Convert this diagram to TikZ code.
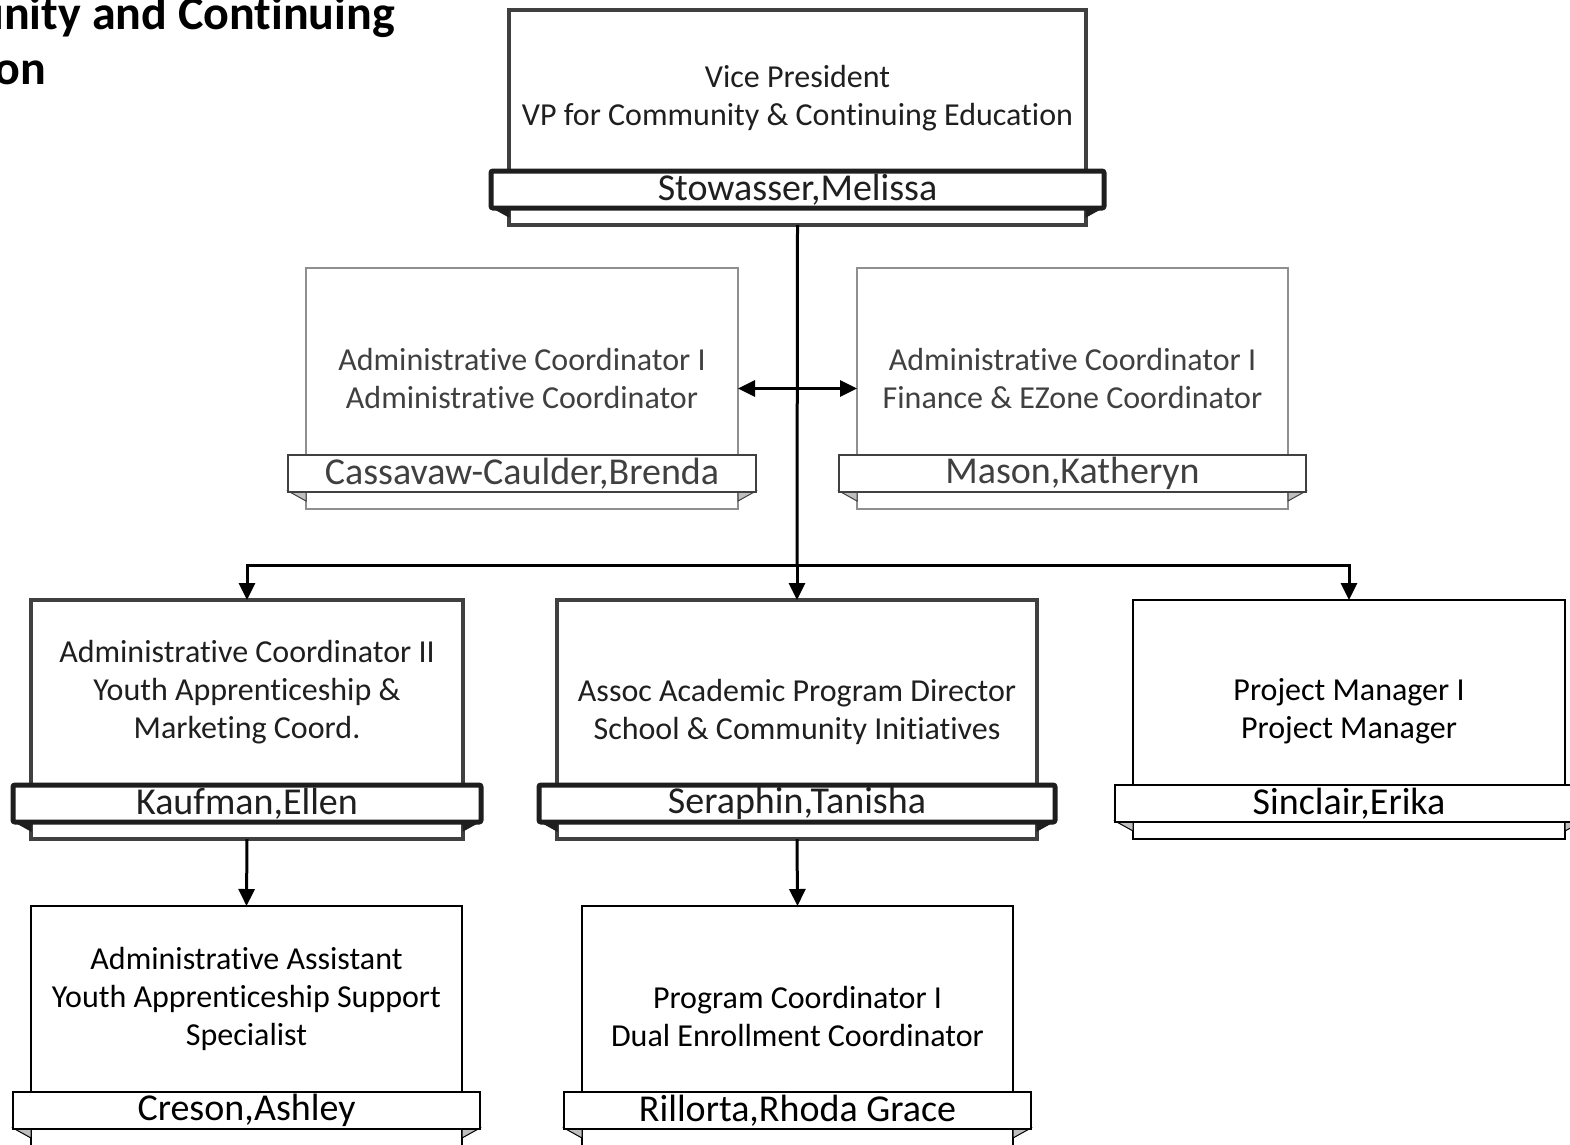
\documentclass[tikz,border=0pt]{standalone}
\usepackage{fontspec}
\setmainfont{Carlito}[Ligatures=NoCommon]
\usetikzlibrary{arrows.meta,calc}
\definecolor{dk}{HTML}{404040}
\definecolor{blk}{HTML}{1E1E1E}
\definecolor{gr}{HTML}{8F8F8F}
\definecolor{foldc}{HTML}{BFBFBF}
\tikzset{
  x=1pt, y=-1pt,
  box/.style={draw, fill=white, rectangle, inner sep=0pt, outer sep=0pt, anchor=north west},
  heavy box/.style={box, draw=dk, line width=4pt},
  grey box/.style={box, draw=gr, line width=2pt},
  thin box/.style={box, draw=black, line width=1.5pt},
  title/.style={align=center, inner sep=0pt, font=\fontsize{32}{38}\selectfont},
  heavy title/.style={title, text=black!88},
  grey title/.style={title, text=dk},
  thin title/.style={title, text=black},
  banner/.style={rectangle, fill=white, inner sep=0pt, outer sep=0pt, minimum height=37pt, anchor=north, font=\fontsize{38}{40}\selectfont},
  heavy banner/.style={banner, draw=blk, line width=5pt, rounded corners=2pt, text=black!88},
  grey banner/.style={banner, draw=dk, line width=1.5pt, text=dk},
  thin banner/.style={banner, draw=black, line width=1.5pt, text=black},
  heavy fold/.style={fill=blk, draw=blk, line width=1pt},
  grey fold/.style={fill=foldc, draw=dk, line width=1pt},
  thin fold/.style={fill=foldc, draw=black, line width=1pt},
  conn/.style={draw=black, line width=3pt},
  arr/.style={conn, -{Triangle[length=17pt,width=16pt]}},
  dblarr/.style={conn, {Triangle[length=17pt,width=16pt]}-{Triangle[length=17pt,width=16pt]}},
  ttl/.style={inner sep=0pt, font=\bfseries\fontsize{48}{55}\selectfont},
}
% #1 id, #2 x1, #3 x2, #4 top, #5 banner top, #6 title y, #7 style, #8 title, #9 name
\newcommand\orgunit[9]{%
  \node[#7 box, minimum width={(#3-#2)*1pt}, minimum height={(#5+54-#4)*1pt}] (#1) at (#2,#4) {};
  \filldraw[#7 fold] (#2-18,#5+36) -- (#2,#5+36) -- (#2,#5+46) -- cycle;
  \filldraw[#7 fold] (#3+18,#5+36) -- (#3,#5+36) -- (#3,#5+46) -- cycle;
  \node[#7 banner, minimum width={(#3-#2+36)*1pt}] (#1-name) at ({(#2+#3)/2},#5) {\raisebox{-2pt}{#9}};
  \node[#7 title] (#1-title) at ({(#2+#3)/2},#6) {#8};
}
\begin{document}
\begin{tikzpicture}
\useasboundingbox (0,0) rectangle (1570,1144);
\fill[white] (0,0) rectangle (1570,1144);
\clip (0,0) rectangle (1570,1144);

\node[ttl, anchor=base east] (t1) at (395,29) {Community and Continuing};
\node[ttl, anchor=base west] (t2) at ([yshift=-55pt]t1.base west) {Education};

\orgunit{vp}{509}{1086}{10}{171}{98}{heavy}{Vice President\\VP for Community \& Continuing Education}{Stowasser,Melissa}
\orgunit{cass}{306}{738}{268}{455}{378}{grey}{Administrative Coordinator I\\Administrative Coordinator}{Cassavaw-Caulder,Brenda}
\orgunit{mason}{857}{1288}{268}{455}{378}{grey}{Administrative Coordinator I\\Finance \& EZone Coordinator}{Mason,Katheryn}
\orgunit{kauf}{31}{463}{600}{785}{692.5}{heavy}{Administrative Coordinator II\\Youth Apprenticeship \&\\Marketing Coord.}{Kaufman,Ellen}
\orgunit{sera}{557}{1037}{600}{785}{711.5}{heavy}{Assoc Academic Program Director\\School \& Community Initiatives}{Seraphin,Tanisha}
\orgunit{sinc}{1133}{1565}{600}{785}{711.5}{thin}{Project Manager I\\Project Manager}{Sinclair,Erika}
\orgunit{creson}{31}{462}{906}{1092}{999}{thin}{Administrative Assistant\\Youth Apprenticeship Support\\Specialist}{Creson,Ashley}
\orgunit{rill}{582}{1013}{906}{1092}{1016}{thin}{Program Coordinator I\\Dual Enrollment Coordinator}{Rillorta,Rhoda Grace}

\coordinate (j) at (797,565);
\draw[conn] (vp.south) -- (j);
\draw[arr] (j) -| (kauf.north);
\draw[arr] (j) -- (sera.north);
\draw[arr] (j) -| (sinc.north);
\draw[dblarr] (cass.east) -- (mason.west);
\draw[arr] (kauf.south) -- (creson.north);
\draw[arr] (sera.south) -- (rill.north);
\end{tikzpicture}
\end{document}
